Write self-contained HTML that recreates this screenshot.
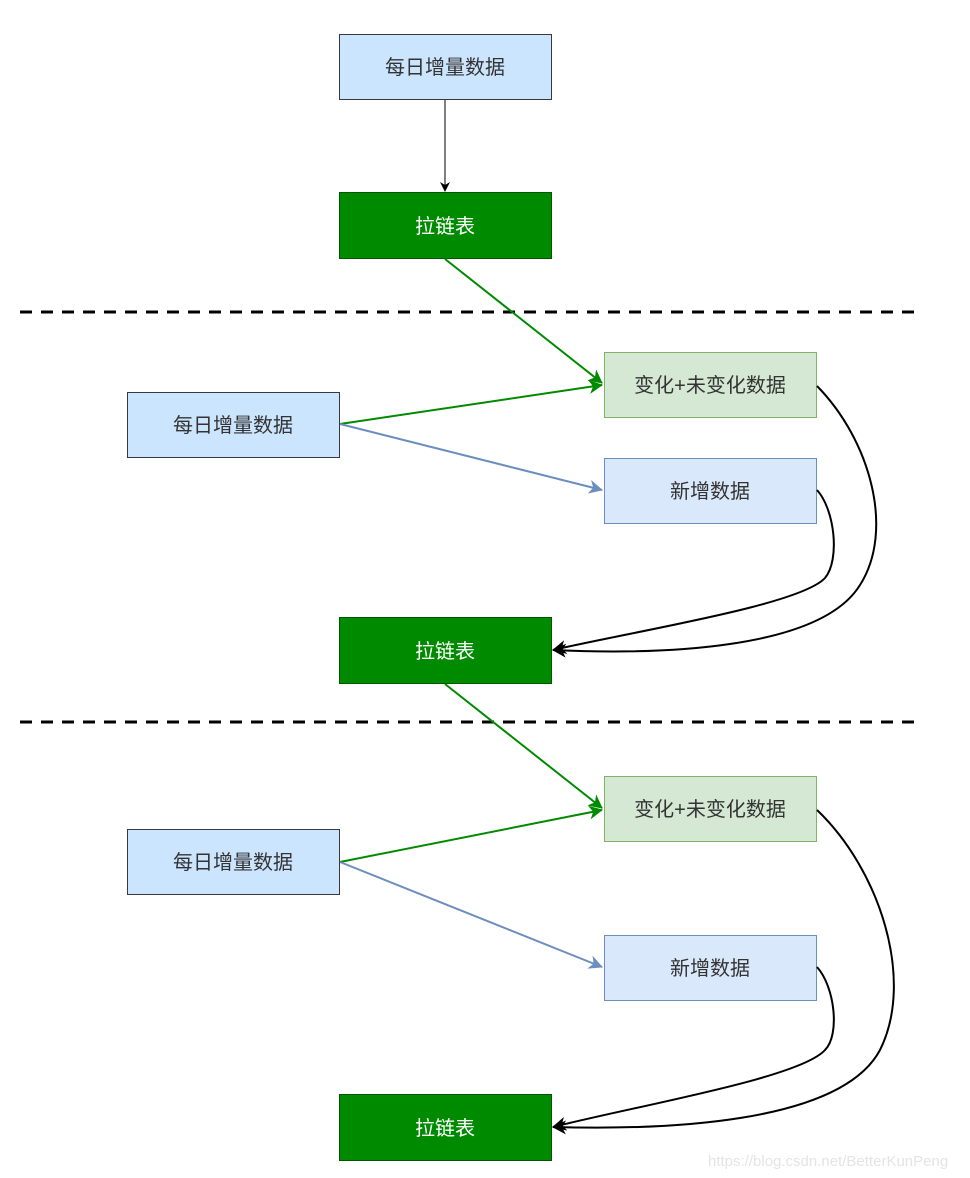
<!DOCTYPE html>
<html><head><meta charset="utf-8"><style>
html,body{margin:0;padding:0;background:#fff;}
svg{display:block;}
text{font-family:"Liberation Sans","Noto Sans CJK SC",sans-serif;}
</style></head><body>
<svg width="970" height="1178" viewBox="0 0 970 1178" xmlns="http://www.w3.org/2000/svg">
<defs>
<marker id="ab" markerWidth="10" markerHeight="10" refX="9" refY="5" orient="auto" markerUnits="userSpaceOnUse"><path d="M0,0 L10,5 L0,10 L3,5 Z" fill="#000"/></marker>
<marker id="ag" markerWidth="14" markerHeight="14" refX="13" refY="7" orient="auto" markerUnits="userSpaceOnUse"><path d="M0,0 L14,7 L0,14 L4,7 Z" fill="#008a00"/></marker>
<marker id="al" markerWidth="14" markerHeight="14" refX="13" refY="7" orient="auto" markerUnits="userSpaceOnUse"><path d="M0,0 L14,7 L0,14 L4,7 Z" fill="#6c8ebf"/></marker>
<marker id="ak" markerWidth="14" markerHeight="14" refX="13" refY="7" orient="auto" markerUnits="userSpaceOnUse"><path d="M0,0 L14,7 L0,14 L4,7 Z" fill="#000"/></marker>
</defs>
<g font-size="20" text-anchor="middle">
<!-- section 1 -->
<rect x="339.5" y="34.5" width="212" height="65" fill="#cce5ff" stroke="#36393d"/>
<text x="445" y="74" fill="#333">每日增量数据</text>
<line x1="445" y1="100" x2="445" y2="191" stroke="#000" stroke-width="1" marker-end="url(#ab)"/>
<rect x="339.5" y="192.5" width="212" height="66" fill="#008a00" stroke="#005700"/>
<text x="445" y="233" fill="#fff">拉链表</text>
<line x1="20" y1="312" x2="918" y2="312" stroke="#000" stroke-width="3" stroke-dasharray="12,9"/>
<!-- section 2 -->
<line x1="445" y1="259" x2="602" y2="383" stroke="#008a00" stroke-width="2" marker-end="url(#ag)"/>
<line x1="340" y1="424" x2="602" y2="385" stroke="#008a00" stroke-width="2" marker-end="url(#ag)"/>
<line x1="340" y1="424" x2="602" y2="490" stroke="#6c8ebf" stroke-width="2" marker-end="url(#al)"/>
<rect x="127.5" y="392.5" width="212" height="65" fill="#cce5ff" stroke="#36393d"/>
<text x="233" y="432" fill="#333">每日增量数据</text>
<rect x="604.5" y="352.5" width="212" height="65" fill="#d5e8d4" stroke="#82b366"/>
<text x="710" y="392" fill="#333">变化+未变化数据</text>
<rect x="604.5" y="458.5" width="212" height="65" fill="#dae8fc" stroke="#6c8ebf"/>
<text x="710" y="498" fill="#333">新增数据</text>
<path d="M817,386 C870,440 895,530 860,585 C820,650 660,655 553,650" fill="none" stroke="#000" stroke-width="2" marker-end="url(#ak)"/>
<path d="M817,490 C835,510 840,560 825,578 C800,605 640,630 553,650" fill="none" stroke="#000" stroke-width="2" marker-end="url(#ak)"/>
<rect x="339.5" y="617.5" width="212" height="66" fill="#008a00" stroke="#005700"/>
<text x="445" y="658" fill="#fff">拉链表</text>
<line x1="20" y1="722" x2="918" y2="722" stroke="#000" stroke-width="3" stroke-dasharray="12,9"/>
<!-- section 3 -->
<line x1="445" y1="684" x2="602" y2="808" stroke="#008a00" stroke-width="2" marker-end="url(#ag)"/>
<line x1="340" y1="862" x2="602" y2="810" stroke="#008a00" stroke-width="2" marker-end="url(#ag)"/>
<line x1="340" y1="862" x2="602" y2="967" stroke="#6c8ebf" stroke-width="2" marker-end="url(#al)"/>
<rect x="127.5" y="829.5" width="212" height="65" fill="#cce5ff" stroke="#36393d"/>
<text x="233" y="869" fill="#333">每日增量数据</text>
<rect x="604.5" y="776.5" width="212" height="65" fill="#d5e8d4" stroke="#82b366"/>
<text x="710" y="816" fill="#333">变化+未变化数据</text>
<rect x="604.5" y="935.5" width="212" height="65" fill="#dae8fc" stroke="#6c8ebf"/>
<text x="710" y="975" fill="#333">新增数据</text>
<path d="M817,810 C880,870 915,980 880,1050 C840,1125 660,1130 553,1127" fill="none" stroke="#000" stroke-width="2" marker-end="url(#ak)"/>
<path d="M817,967 C835,987 840,1035 825,1050 C800,1078 640,1105 553,1127" fill="none" stroke="#000" stroke-width="2" marker-end="url(#ak)"/>
<rect x="339.5" y="1094.5" width="212" height="66" fill="#008a00" stroke="#005700"/>
<text x="445" y="1135" fill="#fff">拉链表</text>
</g>
<text x="708" y="1166" font-size="15" fill="#e4e4e4">https://blog.csdn.net/BetterKunPeng</text>
</svg>
</body></html>
